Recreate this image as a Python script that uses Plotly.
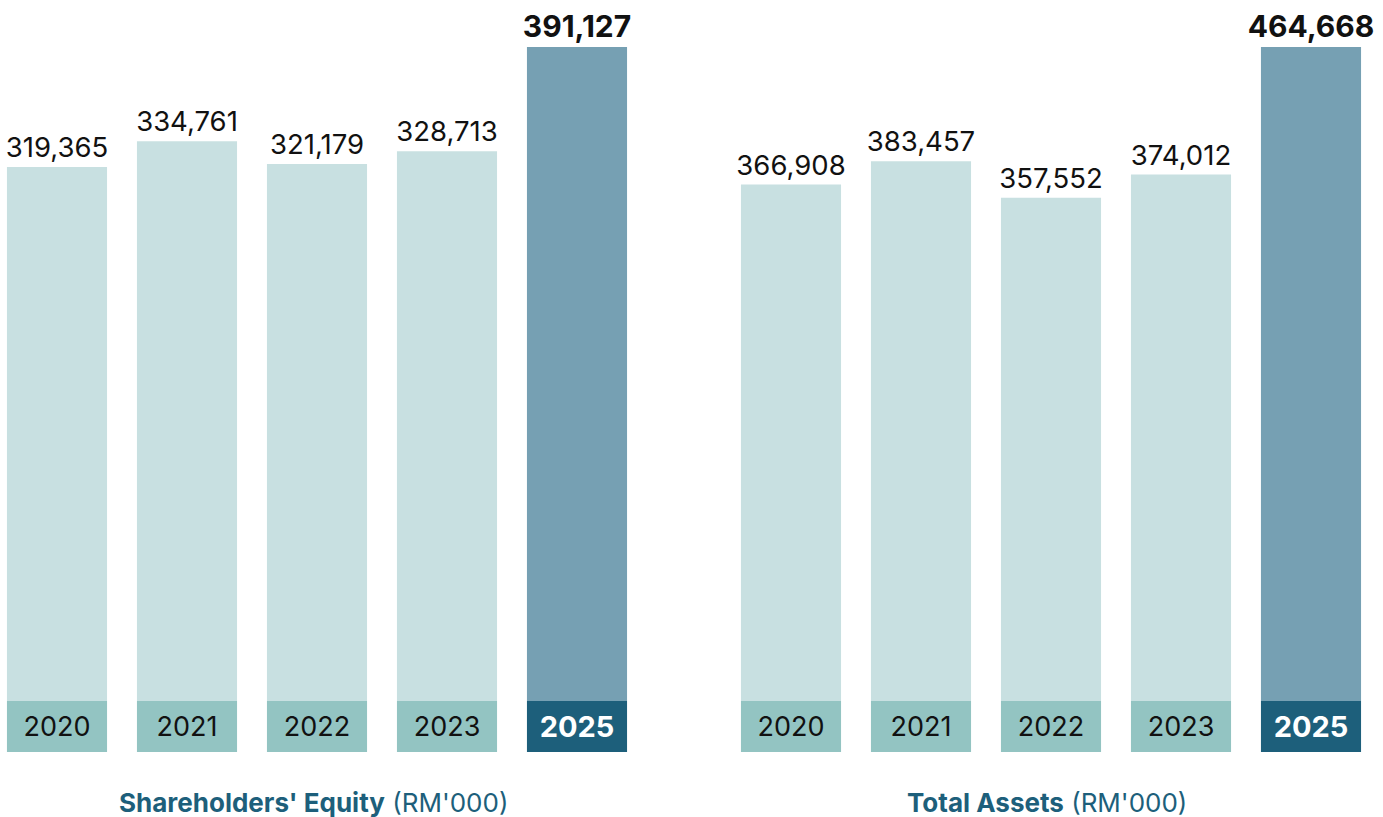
import plotly.graph_objects as go

years = ["2020", "2021", "2022", "2023", "2025"]
equity = [319365, 334761, 321179, 328713, 391127]
assets = [366908, 383457, 357552, 374012, 464668]
titles_bold = ["Shareholders' Equity", "Total Assets"]
title_unit = "(RM'000)"

W, H = 1383, 817
FONT = "Inter"
LIGHT = "#c8e0e1"
HIGHLIGHT = "#76a0b3"
BOX = "#93c4c2"
BOX_DARK = "#1d5f7b"
TITLE_C = "#1d5f7b"

# pixel layout
plot_top, baseline, plot_bottom = 20, 701, 752
max_bar_px = 654

fig = go.Figure()

def add_panel(values, xa, ya):
    n = len(values)
    vmax = max(values)
    per_px = vmax / max_bar_px
    box_h = (plot_bottom - baseline) * per_px
    colors = [LIGHT] * (n - 1) + [HIGHLIGHT]
    sizes = [27.5] * (n - 1) + [30]
    texts = [f"{v:,}" for v in values[:-1]] + [f"<b>{values[-1]:,}</b>"]
    fig.add_trace(go.Bar(
        x=list(range(n)), y=values, base=0, width=0.77,
        marker=dict(color=colors, line=dict(width=0)),
        text=texts, textposition="outside", cliponaxis=False,
        constraintext="none",
        textfont=dict(family=FONT, size=sizes, color="#111111"),
        xaxis=xa, yaxis=ya, showlegend=False, hoverinfo="skip",
    ))
    ytexts = years[:-1] + [f"<b>{years[-1]}</b>"]
    fig.add_trace(go.Bar(
        x=list(range(n)), y=[-box_h] * n, base=0, width=0.77,
        marker=dict(color=[BOX] * (n - 1) + [BOX_DARK], line=dict(width=0)),
        text=ytexts, textposition="inside", insidetextanchor="middle",
        textangle=0, constraintext="none",
        textfont=dict(family=FONT, size=[27] * (n - 1) + [29],
                      color=["#111111"] * (n - 1) + ["#ffffff"]),
        xaxis=xa, yaxis=ya, showlegend=False, hoverinfo="skip",
    ))
    top = vmax + (baseline - plot_top - max_bar_px) * per_px
    return [-box_h, top]

r1 = add_panel(equity, "x", "y")
r2 = add_panel(assets, "x2", "y2")

plot_h = plot_bottom - plot_top
ax_common = dict(showgrid=False, zeroline=False, showticklabels=False,
                 showline=False, ticks="", fixedrange=True)
fig.update_layout(
    width=W, height=H,
    margin=dict(l=0, r=0, t=plot_top, b=H - plot_bottom),
    paper_bgcolor="white", plot_bgcolor="white",
    barmode="overlay", uniformtext=dict(mode=False),
    font=dict(family=FONT, color="#111111"),
    xaxis=dict(domain=[0, 650 / W], range=[-57 / 130, 5 - 57 / 130], **ax_common),
    yaxis=dict(domain=[0, 1], range=r1, **ax_common),
    xaxis2=dict(domain=[726 / W, 1376 / W], range=[-0.5, 4.5], anchor="y2", **ax_common),
    yaxis2=dict(domain=[0, 1], range=r2, anchor="x2", **ax_common),
)

title_y = (H - 802 - (H - plot_bottom)) / plot_h
for cx, tb in zip([313, 1047], titles_bold):
    fig.add_annotation(
        x=cx / W, y=title_y, xref="paper", yref="paper",
        xanchor="center", yanchor="middle", showarrow=False,
        text=f"<b>{tb}</b> {title_unit}",
        font=dict(family=FONT, size=26, color=TITLE_C),
    )

fig.write_html("out.html")
